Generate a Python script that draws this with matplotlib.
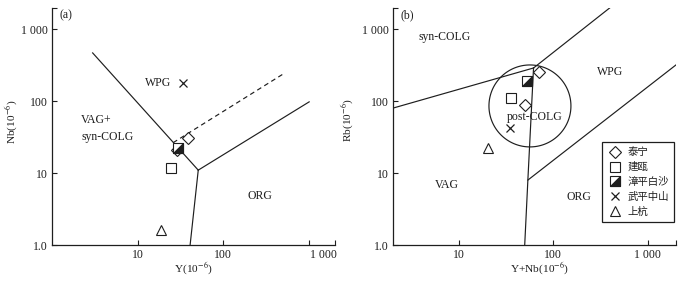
import matplotlib
matplotlib.use('Agg')
import matplotlib.pyplot as plt
import matplotlib.transforms as mtransforms
import numpy as np
from matplotlib.path import Path
from matplotlib.patches import Polygon
from matplotlib.legend_handler import HandlerTuple

plt.rcParams['font.family'] = ['Liberation Serif', 'Noto Sans CJK SC']
plt.rcParams['mathtext.fontset'] = 'stix'

INK = '#1e1e1e'

# ---------------- data ----------------
group_names = ['泰宁', '建瓯', '漳平白沙', '武平中山', '上杭']

# panel (a): Y vs Nb (10^-6)
a_taining_y = [39, 29]
a_taining_nb = [30.5, 21]
a_jianou_y = [24.5]
a_jianou_nb = [11.7]
a_zhangping_y = [30]
a_zhangping_nb = [22]
a_wuping_y = [34]
a_wuping_nb = [177]
a_shanghang_y = [18.8]
a_shanghang_nb = [1.6]

# panel (b): Y+Nb vs Rb (10^-6)
b_taining_ynb = [71, 50.6]
b_taining_rb = [257, 88.5]
b_jianou_ynb = [35.7]
b_jianou_rb = [110]
b_zhangping_ynb = [53]
b_zhangping_rb = [193]
b_wuping_ynb = [34.8]
b_wuping_rb = [42]
b_shanghang_ynb = [20.5]
b_shanghang_rb = [22]

# field boundaries, panel (a)
a_b1_x, a_b1_y = [3, 51], [470, 11]
a_b2_x, a_b2_y = [51, 41], [11, 1]
a_b3_x, a_b3_y = [51, 1000], [11, 98]
a_dash_x, a_dash_y = [26, 500], [26.5, 240]

# field boundaries, panel (b)
b_b1_x, b_b1_y = [2, 62], [80, 290]
b_b2_x, b_b2_y = [62, 400], [290, 2000]
b_b3_x, b_b3_y = [50, 54, 62], [1, 8, 290]
b_b4_x, b_b4_y = [54, 2000], [8, 320]
post_colg_center = (56.8, 86.0)
post_colg_radius_dec = (0.434, 0.570)

x_ticks_a = [10, 100, 1000, 2000]
x_ticks_b = [10, 100, 1000, 2000]
x_tick_labels = ['10', '100', '1 000', '']
y_ticks = [1, 10, 100, 1000, 2000]
y_tick_labels = ['1.0', '10', '100', '1 000', '']

# ---------------- figure ----------------
fig = plt.figure(figsize=(6.95, 2.85), dpi=100)
axw, axh = 283.3 / 695, 237.3 / 285
bottom = 40 / 285
axa = fig.add_axes([51.7 / 695, bottom, axw, axh])
axb = fig.add_axes([392.7 / 695, bottom, axw, axh])

# custom marker: lower-right black triangle
tri_path = Path([(-0.5, -0.5), (0.5, -0.5), (0.5, 0.5), (-0.5, -0.5)],
                [Path.MOVETO, Path.LINETO, Path.LINETO, Path.CLOSEPOLY])

MS = 7.2
common = dict(linestyle='none', markeredgecolor=INK, markeredgewidth=0.8)


def plot_groups(ax, data):
    (tx, ty), (jx, jy), (zx, zy), (wx, wy), (sx, sy) = data
    h1, = ax.plot(tx, ty, marker='D', ms=MS * 0.85, markerfacecolor='white', **common, zorder=5)
    h2, = ax.plot(jx, jy, marker='s', ms=MS, markerfacecolor='white', **common, zorder=5)
    h3a, = ax.plot(zx, zy, marker='s', ms=MS, markerfacecolor='white', **common, zorder=6)
    h3b, = ax.plot(zx, zy, marker=tri_path, ms=MS, markerfacecolor=INK, **common, zorder=7)
    h4, = ax.plot(wx, wy, marker='x', ms=MS * 0.75, color=INK, linestyle='none',
                  markeredgewidth=0.9, zorder=5)
    h5, = ax.plot(sx, sy, marker='^', ms=MS, markerfacecolor='white', **common, zorder=5)
    return [h1, h2, (h3a, h3b), h4, h5]


plot_groups(axa, [(a_taining_y, a_taining_nb), (a_jianou_y, a_jianou_nb),
                  (a_zhangping_y, a_zhangping_nb), (a_wuping_y, a_wuping_nb),
                  (a_shanghang_y, a_shanghang_nb)])
handles = plot_groups(axb, [(b_taining_ynb, b_taining_rb), (b_jianou_ynb, b_jianou_rb),
                            (b_zhangping_ynb, b_zhangping_rb), (b_wuping_ynb, b_wuping_rb),
                            (b_shanghang_ynb, b_shanghang_rb)])

lw = 0.85
for xs, ys in [(a_b1_x, a_b1_y), (a_b2_x, a_b2_y), (a_b3_x, a_b3_y)]:
    axa.plot(xs, ys, color=INK, lw=lw, zorder=3)
axa.plot(a_dash_x, a_dash_y, color=INK, lw=lw, dashes=(4, 3), zorder=3)

for xs, ys in [(b_b1_x, b_b1_y), (b_b2_x, b_b2_y), (b_b3_x, b_b3_y), (b_b4_x, b_b4_y)]:
    axb.plot(xs, ys, color=INK, lw=lw, zorder=3)
t = np.linspace(0, 2 * np.pi, 361)[:-1]
cx, cy = np.log10(post_colg_center[0]), np.log10(post_colg_center[1])
circ = np.column_stack([10 ** (cx + post_colg_radius_dec[0] * np.cos(t)),
                        10 ** (cy + post_colg_radius_dec[1] * np.sin(t))])
axb.add_patch(Polygon(circ, closed=True, fill=False, edgecolor=INK, lw=lw, zorder=3))

for ax, xlim, xt in [(axa, (1, 2000), x_ticks_a), (axb, (2, 2000), x_ticks_b)]:
    ax.set_xscale('log')
    ax.set_yscale('log')
    ax.set_xlim(*xlim)
    ax.set_ylim(1, 2000)
    ax.set_xticks(xt)
    ax.set_xticklabels(x_tick_labels)
    ax.set_yticks(y_ticks)
    ax.set_yticklabels(y_tick_labels)
    ax.minorticks_off()
    ax.tick_params(direction='in', length=3.5, width=0.8, colors=INK, labelsize=8.5,
                   pad=3)
    for s in ['top', 'right']:
        ax.spines[s].set_visible(False)
    for s in ['left', 'bottom']:
        ax.spines[s].set_color(INK)
        ax.spines[s].set_linewidth(0.9)
    ax.patch.set_alpha(0)

# nudge the "1 000" x label of panel (a) toward the axis end, as in the reference
lab = axa.get_xticklabels()[2]
lab.set_transform(lab.get_transform() + mtransforms.ScaledTranslation(14 / 100, 0, fig.dpi_scale_trans))

fs = 8.5
txt = dict(color=INK, fontsize=fs)
def px(ax, x, y):
    return ((x - (51.7 if ax is axa else 392.7)) / 283.3, (245 - y) / 237.3)

axa.text(*px(axa, 60, 15), '(a)', transform=axa.transAxes, ha='left', va='center', **txt)
axa.text(*px(axa, 157.7, 83.3), 'WPG', transform=axa.transAxes, ha='center', va='center', **txt)
axa.text(*px(axa, 81, 120), 'VAG+', transform=axa.transAxes, ha='left', va='center', **txt)
axa.text(*px(axa, 81, 136.7), 'syn-COLG', transform=axa.transAxes, ha='left', va='center', **txt)
axa.text(*px(axa, 260, 196), 'ORG', transform=axa.transAxes, ha='center', va='center', **txt)

axb.text(*px(axb, 401, 15), '(b)', transform=axb.transAxes, ha='left', va='center', **txt)
axb.text(*px(axb, 444.3, 36.7), 'syn-COLG', transform=axb.transAxes, ha='center', va='center', **txt)
axb.text(*px(axb, 610, 71.7), 'WPG', transform=axb.transAxes, ha='center', va='center', **txt)
axb.text(*px(axb, 534.3, 117.3), 'post-COLG', transform=axb.transAxes, ha='center', va='center', **txt)
axb.text(*px(axb, 447.3, 185), 'VAG', transform=axb.transAxes, ha='center', va='center', **txt)
axb.text(*px(axb, 579.3, 196.7), 'ORG', transform=axb.transAxes, ha='center', va='center', **txt)

lab_kw = dict(color=INK, fontsize=8.2, ha='center', va='center')
fig.text(11.7 / 695, 1 - 121.7 / 285, r'Nb(10$^{-6}$)', rotation=90, **lab_kw)
fig.text(193 / 695, 1 - 268.5 / 285, r'Y(10$^{-6}$)', **lab_kw)
fig.text(348.3 / 695, 1 - 120 / 285, r'Rb(10$^{-6}$)', rotation=90, **lab_kw)
fig.text(540 / 695, 1 - 268.5 / 285, r'Y+Nb(10$^{-6}$)', **lab_kw)

leg = axb.legend(handles, group_names, loc='upper left',
                 bbox_to_anchor=px(axb, 602.3, 142.3), borderaxespad=0,
                 handler_map={tuple: HandlerTuple(ndivide=1, pad=0)},
                 fontsize=7.5, frameon=True, fancybox=False, framealpha=1,
                 edgecolor=INK, borderpad=0.5, handlelength=1.4,
                 handletextpad=0.5, labelspacing=0.45)
leg.get_frame().set_linewidth(0.9)
for t_ in leg.get_texts():
    t_.set_color(INK)

fig.savefig('out.png', dpi=100)
